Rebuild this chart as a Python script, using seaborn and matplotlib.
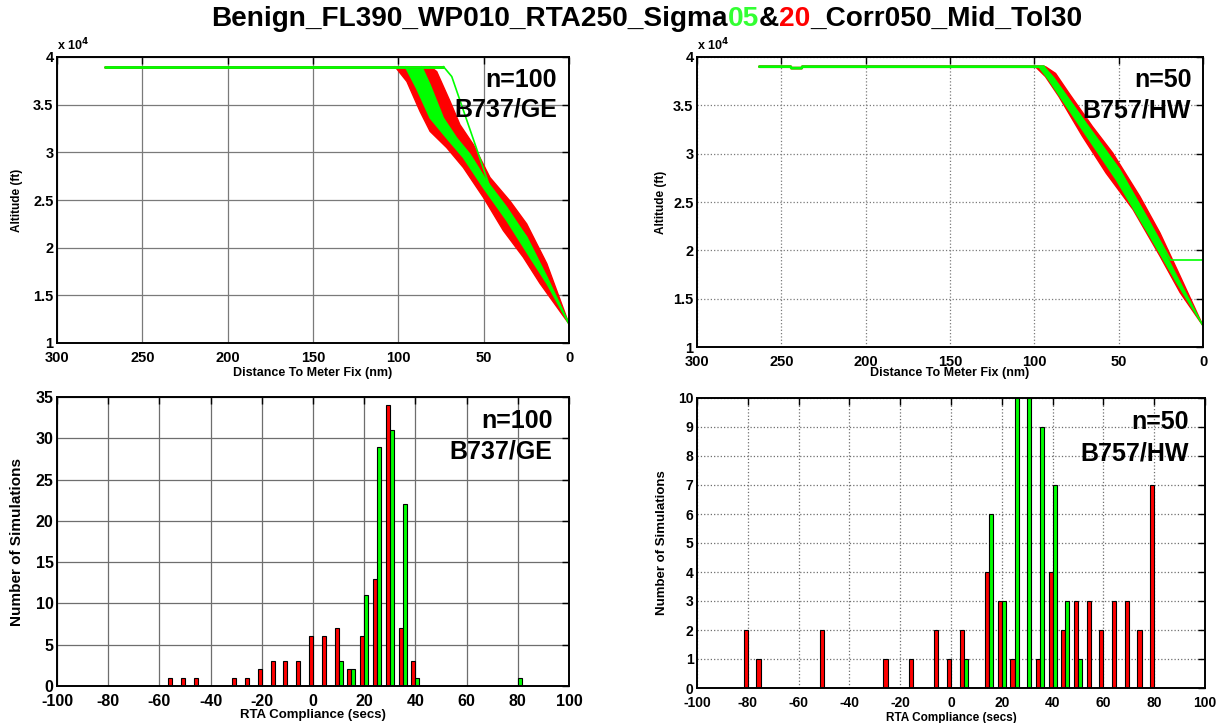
import matplotlib
matplotlib.use('Agg')
import matplotlib.pyplot as plt
import pandas as pd
import seaborn as sns
from matplotlib.ticker import FuncFormatter

sns.set_theme(style='white')
plt.rcParams['font.family'] = ['Liberation Sans', 'DejaVu Sans']
plt.rcParams['font.weight'] = 'bold'
plt.rcParams['axes.labelweight'] = 'bold'
plt.rcParams['axes.unicode_minus'] = False
plt.rcParams['text.color'] = 'black'
plt.rcParams['axes.labelcolor'] = 'black'
plt.rcParams['xtick.color'] = 'black'
plt.rcParams['ytick.color'] = 'black'

RED = '#ff0000'
GREEN = '#00ff00'

# ---------------- Top-left: B737/GE descent trajectories (nm, ft) ----------------
ge_cruise_dist = [272, 73.6]
ge_cruise_alt = [39000, 39000]
ge_red_early_dist = [102, 95, 87.3, 81.4, 71.7, 61.9, 50.2, 38.5, 26.8, 17, 0]
ge_red_early_alt = [39000, 37430, 34300, 32200, 30500, 28400, 25280, 21800, 19000, 16250, 12000]
ge_red_late_dist = [81.4, 77.5, 69.7, 63.9, 56, 46.3, 34.6, 24.8, 13, 0]
ge_red_late_alt = [39000, 38470, 35350, 32900, 30800, 27360, 24900, 22500, 18330, 12000]
ge_green_early_dist = [96, 89.3, 81.4, 71.7, 61.9, 50.2, 36.5, 22.9, 13, 0]
ge_green_early_alt = [39000, 36700, 33600, 31500, 29450, 26300, 22850, 19000, 16250, 12000]
ge_green_late_dist = [86.3, 81.4, 73.6, 65.8, 58, 48.2, 36.5, 24.8, 13, 0]
ge_green_late_alt = [39000, 37100, 33600, 31500, 29800, 27000, 24240, 21100, 16900, 12000]
ge_green_outlier_dist = [73.6, 68.7, 46.3, 43.4, 24.8, 13, 0]
ge_green_outlier_alt = [39000, 37950, 26300, 25600, 21100, 16900, 12000]

# ---------------- Top-right: B757/HW descent trajectories ----------------
hw_cruise_dist = [263, 244.5, 244, 238, 237.5, 94.4]
hw_cruise_alt = [39000, 39000, 38850, 38850, 39000, 39000]
hw_red_early_dist = [99.4, 93.4, 85.4, 71.5, 57.5, 41.5, 25.5, 13.6, 0]
hw_red_early_alt = [39000, 37970, 35900, 31800, 28000, 24230, 19400, 15640, 12200]
hw_red_late_dist = [93.4, 87.4, 79.4, 65.5, 53.5, 37.5, 25.5, 13.6, 0]
hw_red_late_alt = [39000, 38300, 36250, 32800, 30070, 25600, 21800, 17350, 12200]
hw_green_early_dist = [97.4, 91.4, 71.5, 51.5, 31.5, 15.6, 0]
hw_green_early_alt = [39000, 37630, 32470, 27320, 21480, 16670, 12200]
hw_green_late_dist = [94.4, 88.4, 69.5, 49.5, 31.5, 15.6, 0]
hw_green_late_alt = [39000, 37800, 33160, 28350, 22850, 17350, 12200]
hw_green_level_dist = [94.4, 88.4, 69.5, 49.5, 31.5, 19.2, 0]
hw_green_level_alt = [39000, 37800, 33160, 28350, 22850, 19000, 19000]

# ---------------- Histograms: RTA compliance (secs) ----------------
ge_centers = [-55, -50, -45, -30, -25, -20, -15, -10, -5, 0, 5, 10, 15, 20, 25, 30, 35, 40, 80]
ge_red = [1, 1, 1, 1, 1, 2, 3, 3, 3, 6, 6, 7, 2, 6, 13, 34, 7, 3, 0]
ge_green = [0, 0, 0, 0, 0, 0, 0, 0, 0, 0, 0, 3, 2, 11, 29, 31, 22, 1, 1]

hw_centers = [-80, -75, -50, -25, -15, -5, 0, 5, 15, 20, 25, 30, 35, 40, 45, 50, 55, 60, 65, 70, 75, 80]
hw_red = [2, 1, 2, 1, 1, 2, 1, 2, 4, 3, 1, 0, 1, 4, 2, 3, 3, 2, 3, 3, 2, 7]
hw_green = [0, 0, 0, 0, 0, 0, 0, 1, 6, 3, 10, 10, 9, 7, 3, 1, 0, 0, 0, 0, 0, 0]

W, H = 1220, 723
fig = plt.figure(figsize=(W / 100, H / 100), dpi=100)


def add_axes_px(left, right, top, bottom):
    return fig.add_axes([left / W, 1 - bottom / H, (right - left) / W, (bottom - top) / H])


ax_tl = add_axes_px(57, 569, 57, 343)
ax_tr = add_axes_px(697, 1203, 57, 347)
ax_bl = add_axes_px(57, 569, 397, 686)
ax_br = add_axes_px(697, 1205, 398, 688)


def style_axes(ax, labelsize, grid_ls, grid_color, xpad):
    ax.grid(True, color=grid_color, linestyle=grid_ls, linewidth=0.9)
    ax.set_axisbelow(True)
    ax.tick_params(direction='in', top=True, right=True, length=5, width=1,
                   labelsize=labelsize, colors='black')
    ax.tick_params(axis='x', pad=xpad)
    ax.tick_params(axis='y', pad=2.5)
    for lab in ax.get_xticklabels() + ax.get_yticklabels():
        lab.set_fontweight('bold')
    for s in ax.spines.values():
        s.set_visible(True)
        s.set_color('black')
        s.set_linewidth(1.4)


def band(ax, d1, a1, d2, a2, color):
    ax.fill(list(d1) + list(d2)[::-1], list(a1) + list(a2)[::-1], color=color, lw=0)
    sns.lineplot(x=d1, y=a1, sort=False, estimator=None, color=color, lw=1, ax=ax)
    sns.lineplot(x=d2, y=a2, sort=False, estimator=None, color=color, lw=1, ax=ax)


def traj_axes(ax, cruise_d, cruise_a, red_e, red_l, green_e, green_l, extra, grid_ls, tag, sub,
              lblx, xlbly):
    sns.lineplot(x=cruise_d, y=cruise_a, sort=False, estimator=None, color=RED, lw=2, ax=ax)
    band(ax, red_e[0], red_e[1], red_l[0], red_l[1], RED)
    band(ax, green_e[0], green_e[1], green_l[0], green_l[1], GREEN)
    sns.lineplot(x=cruise_d, y=cruise_a, sort=False, estimator=None, color=GREEN, lw=2, ax=ax)
    sns.lineplot(x=extra[0], y=extra[1], sort=False, estimator=None, color=GREEN, lw=1.2, ax=ax)
    ax.set_xlim(300, 0)
    ax.set_ylim(10000, 40000)
    ax.set_xticks([300, 250, 200, 150, 100, 50, 0])
    ax.set_yticks([10000, 15000, 20000, 25000, 30000, 35000, 40000])
    ax.yaxis.set_major_formatter(FuncFormatter(lambda v, p: f'{v / 1e4:g}'))
    style_axes(ax, 10.5, grid_ls, '#7a7a7a', 5.5)
    ax.set_xlabel('Distance To Meter Fix (nm)', fontsize=9, fontweight='bold')
    ax.set_ylabel('Altitude (ft)', fontsize=8.5, fontweight='bold')
    ax.xaxis.set_label_coords(0.5, xlbly)
    ax.yaxis.set_label_coords(lblx, 0.5)
    ax.text(0.0, 1.012, r'x 10$^{4}$', transform=ax.transAxes, fontsize=9,
            fontweight='bold', ha='left', va='bottom', color='black')
    ax.text(0.977, 0.92, tag, transform=ax.transAxes, ha='right', va='center',
            fontsize=18, fontweight='bold', color='black')
    ax.text(0.977, 0.815, sub, transform=ax.transAxes, ha='right', va='center',
            fontsize=18, fontweight='bold', color='black')


traj_axes(ax_tl, ge_cruise_dist, ge_cruise_alt,
          (ge_red_early_dist, ge_red_early_alt), (ge_red_late_dist, ge_red_late_alt),
          (ge_green_early_dist, ge_green_early_alt), (ge_green_late_dist, ge_green_late_alt),
          (ge_green_outlier_dist, ge_green_outlier_alt), '-', 'n=100', 'B737/GE', -0.066, -0.083)
traj_axes(ax_tr, hw_cruise_dist, hw_cruise_alt,
          (hw_red_early_dist, hw_red_early_alt), (hw_red_late_dist, hw_red_late_alt),
          (hw_green_early_dist, hw_green_early_alt), (hw_green_late_dist, hw_green_late_alt),
          (hw_green_level_dist, hw_green_level_alt), ':', 'n=50', 'B757/HW', -0.059, -0.07)


def hist_axes(ax, centers, red, green, ymax, yticks, labelsize, grid_ls, tag, sub,
              xlab_fs, ylab_fs, lblx, lbly):
    df = pd.DataFrame({
        'center': list(centers) * 2,
        'count': list(red) + list(green),
        'series': ['Sigma20'] * len(centers) + ['Sigma05'] * len(centers),
    })
    sns.barplot(data=df, x='center', y='count', hue='series', hue_order=['Sigma20', 'Sigma05'],
                palette={'Sigma20': RED, 'Sigma05': GREEN}, native_scale=True, width=0.64,
                dodge=True, errorbar=None, edgecolor='black', linewidth=0.8, saturation=1,
                legend=False, ax=ax)
    ax.set_xlim(-100, 100)
    ax.set_ylim(0, ymax)
    ax.set_xticks(list(range(-100, 101, 20)))
    ax.set_yticks(yticks)
    style_axes(ax, labelsize, grid_ls, '#6e6e6e', 5.5)
    ax.set_xlabel('RTA Compliance (secs)', fontsize=xlab_fs, fontweight='bold')
    ax.set_ylabel('Number of Simulations', fontsize=ylab_fs, fontweight='bold')
    ax.xaxis.set_label_coords(0.5, lbly)
    ax.yaxis.set_label_coords(lblx, 0.5)
    ax.text(0.968, 0.918, tag, transform=ax.transAxes, ha='right', va='center',
            fontsize=18, fontweight='bold', color='black')
    ax.text(0.968, 0.81, sub, transform=ax.transAxes, ha='right', va='center',
            fontsize=18, fontweight='bold', color='black')


hist_axes(ax_bl, ge_centers, ge_red, ge_green, 35, list(range(0, 36, 5)), 11.5, '-',
          'n=100', 'B737/GE', 9.5, 11, -0.064, -0.08)
hist_axes(ax_br, hw_centers, hw_red, hw_green, 10, list(range(0, 11, 1)), 10, ':',
          'n=50', 'B757/HW', 8.5, 9.5, -0.057, -0.083)

# ---------------- Multi-coloured title ----------------
title_parts = [('Benign_FL390_WP010_RTA250_Sigma', 'black'), ('05', '#33ff33'), ('&', 'black'),
               ('20', RED), ('_Corr050_Mid_Tol30', 'black')]
fig.canvas.draw()
renderer = fig.canvas.get_renderer()
pieces, widths = [], []
for s, c in title_parts:
    t = fig.text(0, 1 - 19 / H, s, fontsize=20.2, fontweight='bold', color=c, ha='left', va='center')
    pieces.append(t)
    widths.append(t.get_window_extent(renderer).width)
x = 647 - sum(widths) / 2
for t, w in zip(pieces, widths):
    t.set_x(x / W)
    x += w

fig.savefig('out.png', dpi=100, facecolor='white')
